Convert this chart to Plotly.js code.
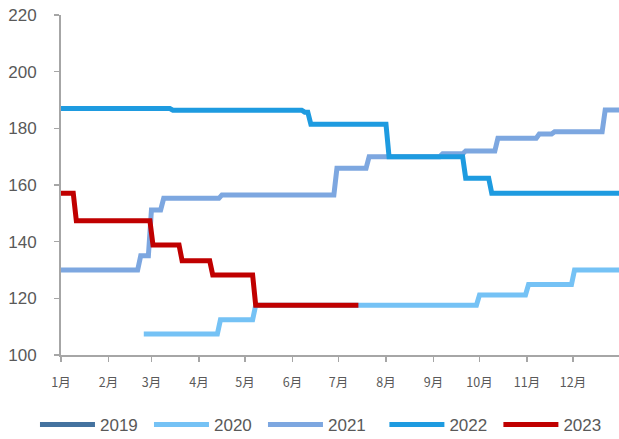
<!DOCTYPE html>
<html>
<head>
<meta charset="utf-8">
<script src="https://cdn.plot.ly/plotly-3.0.1.min.js"></script>
<style>html,body{margin:0;padding:0;background:#fff;}#chart{width:619px;height:439px;}</style>
</head>
<body>
<div id="chart"></div>
<script>
// ---- data (dates mapped onto a common year) ----
const seriesNames = ["2019", "2020", "2021", "2022", "2023"];

const dates2019 = [];
const values2019 = [];

const dates2020 = ["2023-02-24","2023-04-13","2023-04-15","2023-05-06","2023-05-08","2023-09-29","2023-10-01","2023-10-31","2023-11-02","2023-11-30","2023-12-02","2023-12-31"];
const values2020 = [107.4,107.4,112.4,112.4,117.6,117.6,121.2,121.2,124.9,124.9,130.0,130.0];

const dates2021 = ["2023-01-01","2023-02-20","2023-02-22","2023-02-27","2023-03-01","2023-03-07","2023-03-09","2023-04-14","2023-04-16","2023-06-28","2023-06-30","2023-07-19","2023-07-21","2023-09-05","2023-09-07","2023-09-20","2023-09-22","2023-10-11","2023-10-13","2023-11-07","2023-11-09","2023-11-17","2023-11-19","2023-12-20","2023-12-22","2023-12-31"];
const values2021 = [130.0,130.0,135.0,135.0,151.2,151.2,155.3,155.3,156.5,156.5,165.9,165.9,170.0,170.0,171.0,171.0,172.0,172.0,176.5,176.5,178.0,178.0,178.8,178.8,186.5,186.5];

const dates2022 = ["2023-01-01","2023-03-13","2023-03-15","2023-06-07","2023-06-09","2023-06-11","2023-06-13","2023-08-01","2023-08-03","2023-09-20","2023-09-22","2023-10-07","2023-10-09","2023-12-31"];
const values2022 = [187.0,187.0,186.4,186.4,185.7,185.7,181.4,181.4,170.0,170.0,162.4,162.4,157.1,157.1];

const dates2023 = ["2023-01-01","2023-01-09","2023-01-11","2023-02-28","2023-03-02","2023-03-19","2023-03-21","2023-04-08","2023-04-10","2023-05-06","2023-05-08","2023-07-14"];
const values2023 = [157.1,157.1,147.4,147.4,138.8,138.8,133.3,133.3,128.2,128.2,117.6,117.6];

const monthTickVals = ["2023-01-01","2023-02-01","2023-03-01","2023-04-01","2023-05-01","2023-06-01","2023-07-01","2023-08-01","2023-09-01","2023-10-01","2023-11-01","2023-12-01"];
const monthTickText = ["1月","2月","3月","4月","5月","6月","7月","8月","9月","10月","11月","12月"];

// ---- styles ----
const colors = ["#44729F", "#75C2F5", "#7DA7E0", "#1E9BE0", "#C00000"];
const legendGroups = ["legend", "legend", "legend", "legend2", "legend2"];
const xs = [dates2019, dates2020, dates2021, dates2022, dates2023];
const ys = [values2019, values2020, values2021, values2022, values2023];

const traces = seriesNames.map((name, i) => ({
  type: "scatter",
  mode: "lines",
  name: name,
  legend: legendGroups[i],
  x: xs[i].length ? xs[i] : [null],
  y: ys[i].length ? ys[i] : [null],
  line: {color: colors[i], width: 5, shape: "linear"},
  hoverinfo: "skip"
}));

const axisGray = "#A6A6A6";
const textGray = "#595959";

const legendBase = {
  orientation: "h",
  xref: "container",
  yref: "container",
  xanchor: "left",
  y: 0.032,
  yanchor: "middle",
  entrywidth: 44,
  entrywidthmode: "pixels",
  itemwidth: 55,
  font: {family: "Liberation Sans, Arial, sans-serif", size: 17, color: textGray},
  traceorder: "normal"
};

const layout = {
  width: 619,
  height: 439,
  margin: {l: 61, r: 0, t: 15, b: 84},
  paper_bgcolor: "#ffffff",
  plot_bgcolor: "#ffffff",
  font: {family: "Liberation Sans, Arial, sans-serif", color: textGray},
  showlegend: true,
  xaxis: {
    type: "date",
    range: ["2023-01-01", "2023-12-31"],
    tickmode: "array",
    tickvals: monthTickVals,
    ticktext: monthTickText,
    showgrid: false,
    zeroline: false,
    showline: true,
    linecolor: axisGray,
    linewidth: 2,
    ticks: "outside",
    ticklen: 5,
    tickcolor: axisGray,
    tickwidth: 1.5,
    ticklabelstandoff: 10,
    tickfont: {family: "Noto Sans CJK SC, sans-serif", size: 12.5, color: textGray}
  },
  yaxis: {
    range: [100, 220],
    tickmode: "linear",
    tick0: 100,
    dtick: 20,
    showgrid: false,
    zeroline: false,
    showline: true,
    linecolor: axisGray,
    linewidth: 2,
    ticks: "outside",
    ticklen: 5,
    tickcolor: axisGray,
    tickwidth: 1.5,
    ticklabelstandoff: 14,
    tickfont: {family: "Liberation Sans, Arial, sans-serif", size: 17, color: textGray}
  },
  legend: Object.assign({}, legendBase, {x: 0.0565}),
  legend2: Object.assign({}, legendBase, {x: 0.621})
};

Plotly.newPlot("chart", traces, layout, {displayModeBar: false, staticPlot: true});
</script>
</body>
</html>
